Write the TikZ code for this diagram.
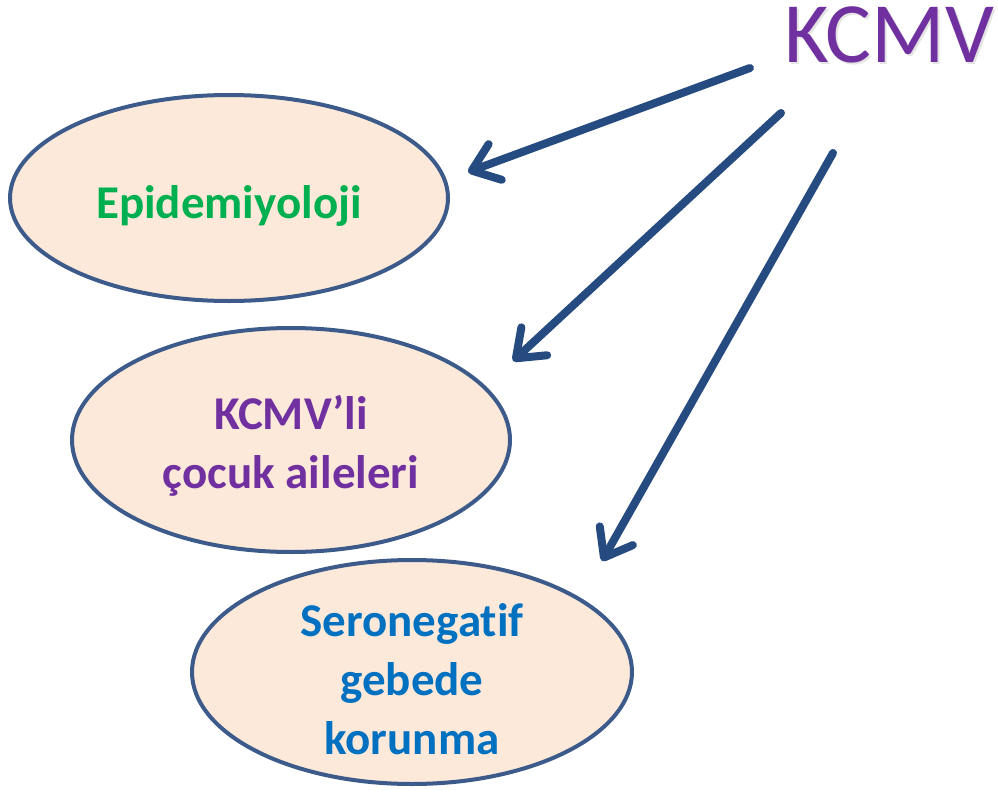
\documentclass[tikz,border=0pt]{standalone}
\usepackage{fontspec}
\setmainfont[Ligatures=NoCommon]{Carlito}
\usetikzlibrary{arrows.meta}
\definecolor{ovalfill}{HTML}{FCE9DA}
\definecolor{ovaledge}{HTML}{3C5A8A}
\definecolor{arrowblue}{HTML}{264B80}
\definecolor{kgreen}{HTML}{00B050}
\definecolor{kpurple}{HTML}{7030A0}
\definecolor{kblue}{HTML}{0070C0}
\begin{document}
\begin{tikzpicture}[x=0.5pt,y=-0.5pt,
  oval/.style={draw=ovaledge, fill=ovalfill, line width=2pt},
  ovaltext/.style={font=\bfseries\fontsize{23.5pt}{29.5pt}\selectfont, align=center},
  titletext/.style={font=\fontsize{43pt}{43pt}\selectfont},
  pointer/.style={draw=arrowblue, line width=4pt, line cap=round,
    -{Straight Barb[length=12.5pt,width=19pt,round]}}]
\useasboundingbox (0,0) rectangle (998,793);

% the three topic ovals
\draw[oval] (229,198) ellipse [x radius=219, y radius=103];
\draw[oval] (291,440) ellipse [x radius=219, y radius=112];
\draw[oval] (412,672) ellipse [x radius=220, y radius=112];

\node[ovaltext, text=kgreen] (epi) at (229,206) {Epidemiyoloji};
\node[ovaltext, text=kpurple] (fam) at (291,446) {KCMV’li\\çocuk aileleri};
\node[ovaltext, text=kblue] (sero) at (412,679) {Seronegatif\\gebede\\korunma};

% title with a soft drop shadow
\node[titletext, text=black!30, opacity=0.35] (kcmvshadow) at (891,37) {KCMV};
\node[titletext, text=kpurple] (kcmv) at (889,35) {KCMV};

% arrow end points
\coordinate (a1s) at (750,68);
\coordinate (a1e) at (468,172);
\coordinate (a2s) at (781,113);
\coordinate (a2e) at (513,361);
\coordinate (a3s) at (833,153);
\coordinate (a3e) at (602,561);

\draw[pointer] (a1s) -- (a1e);
\draw[pointer] (a2s) -- (a2e);
\draw[pointer] (a3s) -- (a3e);
\end{tikzpicture}
\end{document}
